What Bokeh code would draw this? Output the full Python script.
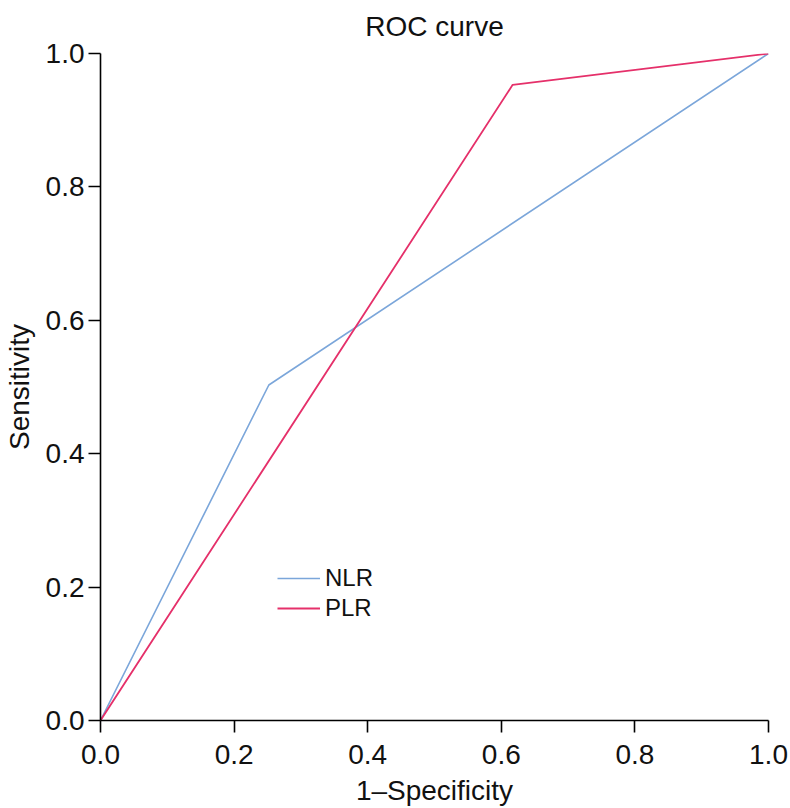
from bokeh.plotting import figure
from bokeh.models import Legend, LegendItem, FixedTicker
from bokeh.embed import file_html
from bokeh.resources import INLINE

# Data
nlr_fpr = [0.0, 0.252, 1.0]
nlr_tpr = [0.0, 0.503, 1.0]
plr_fpr = [0.0, 0.617, 1.0]
plr_tpr = [0.0, 0.953, 1.0]
ticks = [0.0, 0.2, 0.4, 0.6, 0.8, 1.0]
tick_labels = {t: f"{t:.1f}" for t in ticks}

FONT = "Liberation Sans"

p = figure(width=790, height=808, x_range=(0, 1), y_range=(0, 1),
           frame_width=668, frame_height=667,
           min_border_left=100, min_border_top=53, min_border_right=22, min_border_bottom=88,
           output_backend="svg", toolbar_location=None, title="ROC curve")
p.outline_line_color = None
p.grid.visible = False
p.background_fill_color = "white"

p.title.align = "center"
p.title.vertical_align = "top"
p.title.text_font = FONT
p.title.text_font_size = "28px"
p.title.text_font_style = "normal"
p.title.text_color = "#111111"
p.title.standoff = 19

l1 = p.line(nlr_fpr, nlr_tpr, line_color="#7ba6da", line_width=1.6)
l2 = p.line(plr_fpr, plr_tpr, line_color="#e5306a", line_width=1.8)

for ax, lab in ((p.xaxis[0], "1\u2013Specificity"), (p.yaxis[0], "Sensitivity")):
    ax.ticker = FixedTicker(ticks=ticks)
    ax.major_label_overrides = tick_labels
    ax.axis_label = lab
    ax.axis_label_text_font = FONT
    ax.axis_label_text_font_size = "28px"
    ax.axis_label_text_font_style = "normal"
    ax.axis_label_text_color = "#111111"
    ax.major_label_text_font = FONT
    ax.major_label_text_font_size = "28px"
    ax.major_label_text_color = "#111111"
    ax.axis_line_color = "black"
    ax.axis_line_width = 1.6
    ax.major_tick_line_color = "black"
    ax.major_tick_line_width = 1.6
    ax.major_tick_out = 12
    ax.major_tick_in = 0
    ax.minor_tick_line_color = None

p.xaxis[0].major_label_standoff = 12
p.xaxis[0].axis_label_standoff = 8
p.yaxis[0].major_label_standoff = 4
p.yaxis[0].axis_label_standoff = 8

legend = Legend(items=[LegendItem(label="NLR", renderers=[l1]),
                       LegendItem(label="PLR", renderers=[l2])],
                location=(177, 97), orientation="vertical",
                padding=0, margin=0, spacing=0,
                glyph_width=43, glyph_height=30, label_height=30,
                label_standoff=5, label_text_font=FONT, label_text_font_size="24px",
                label_text_color="#111111",
                border_line_alpha=0, background_fill_alpha=0)
p.add_layout(legend)

open("out.html", "w").write(file_html(p, INLINE))
